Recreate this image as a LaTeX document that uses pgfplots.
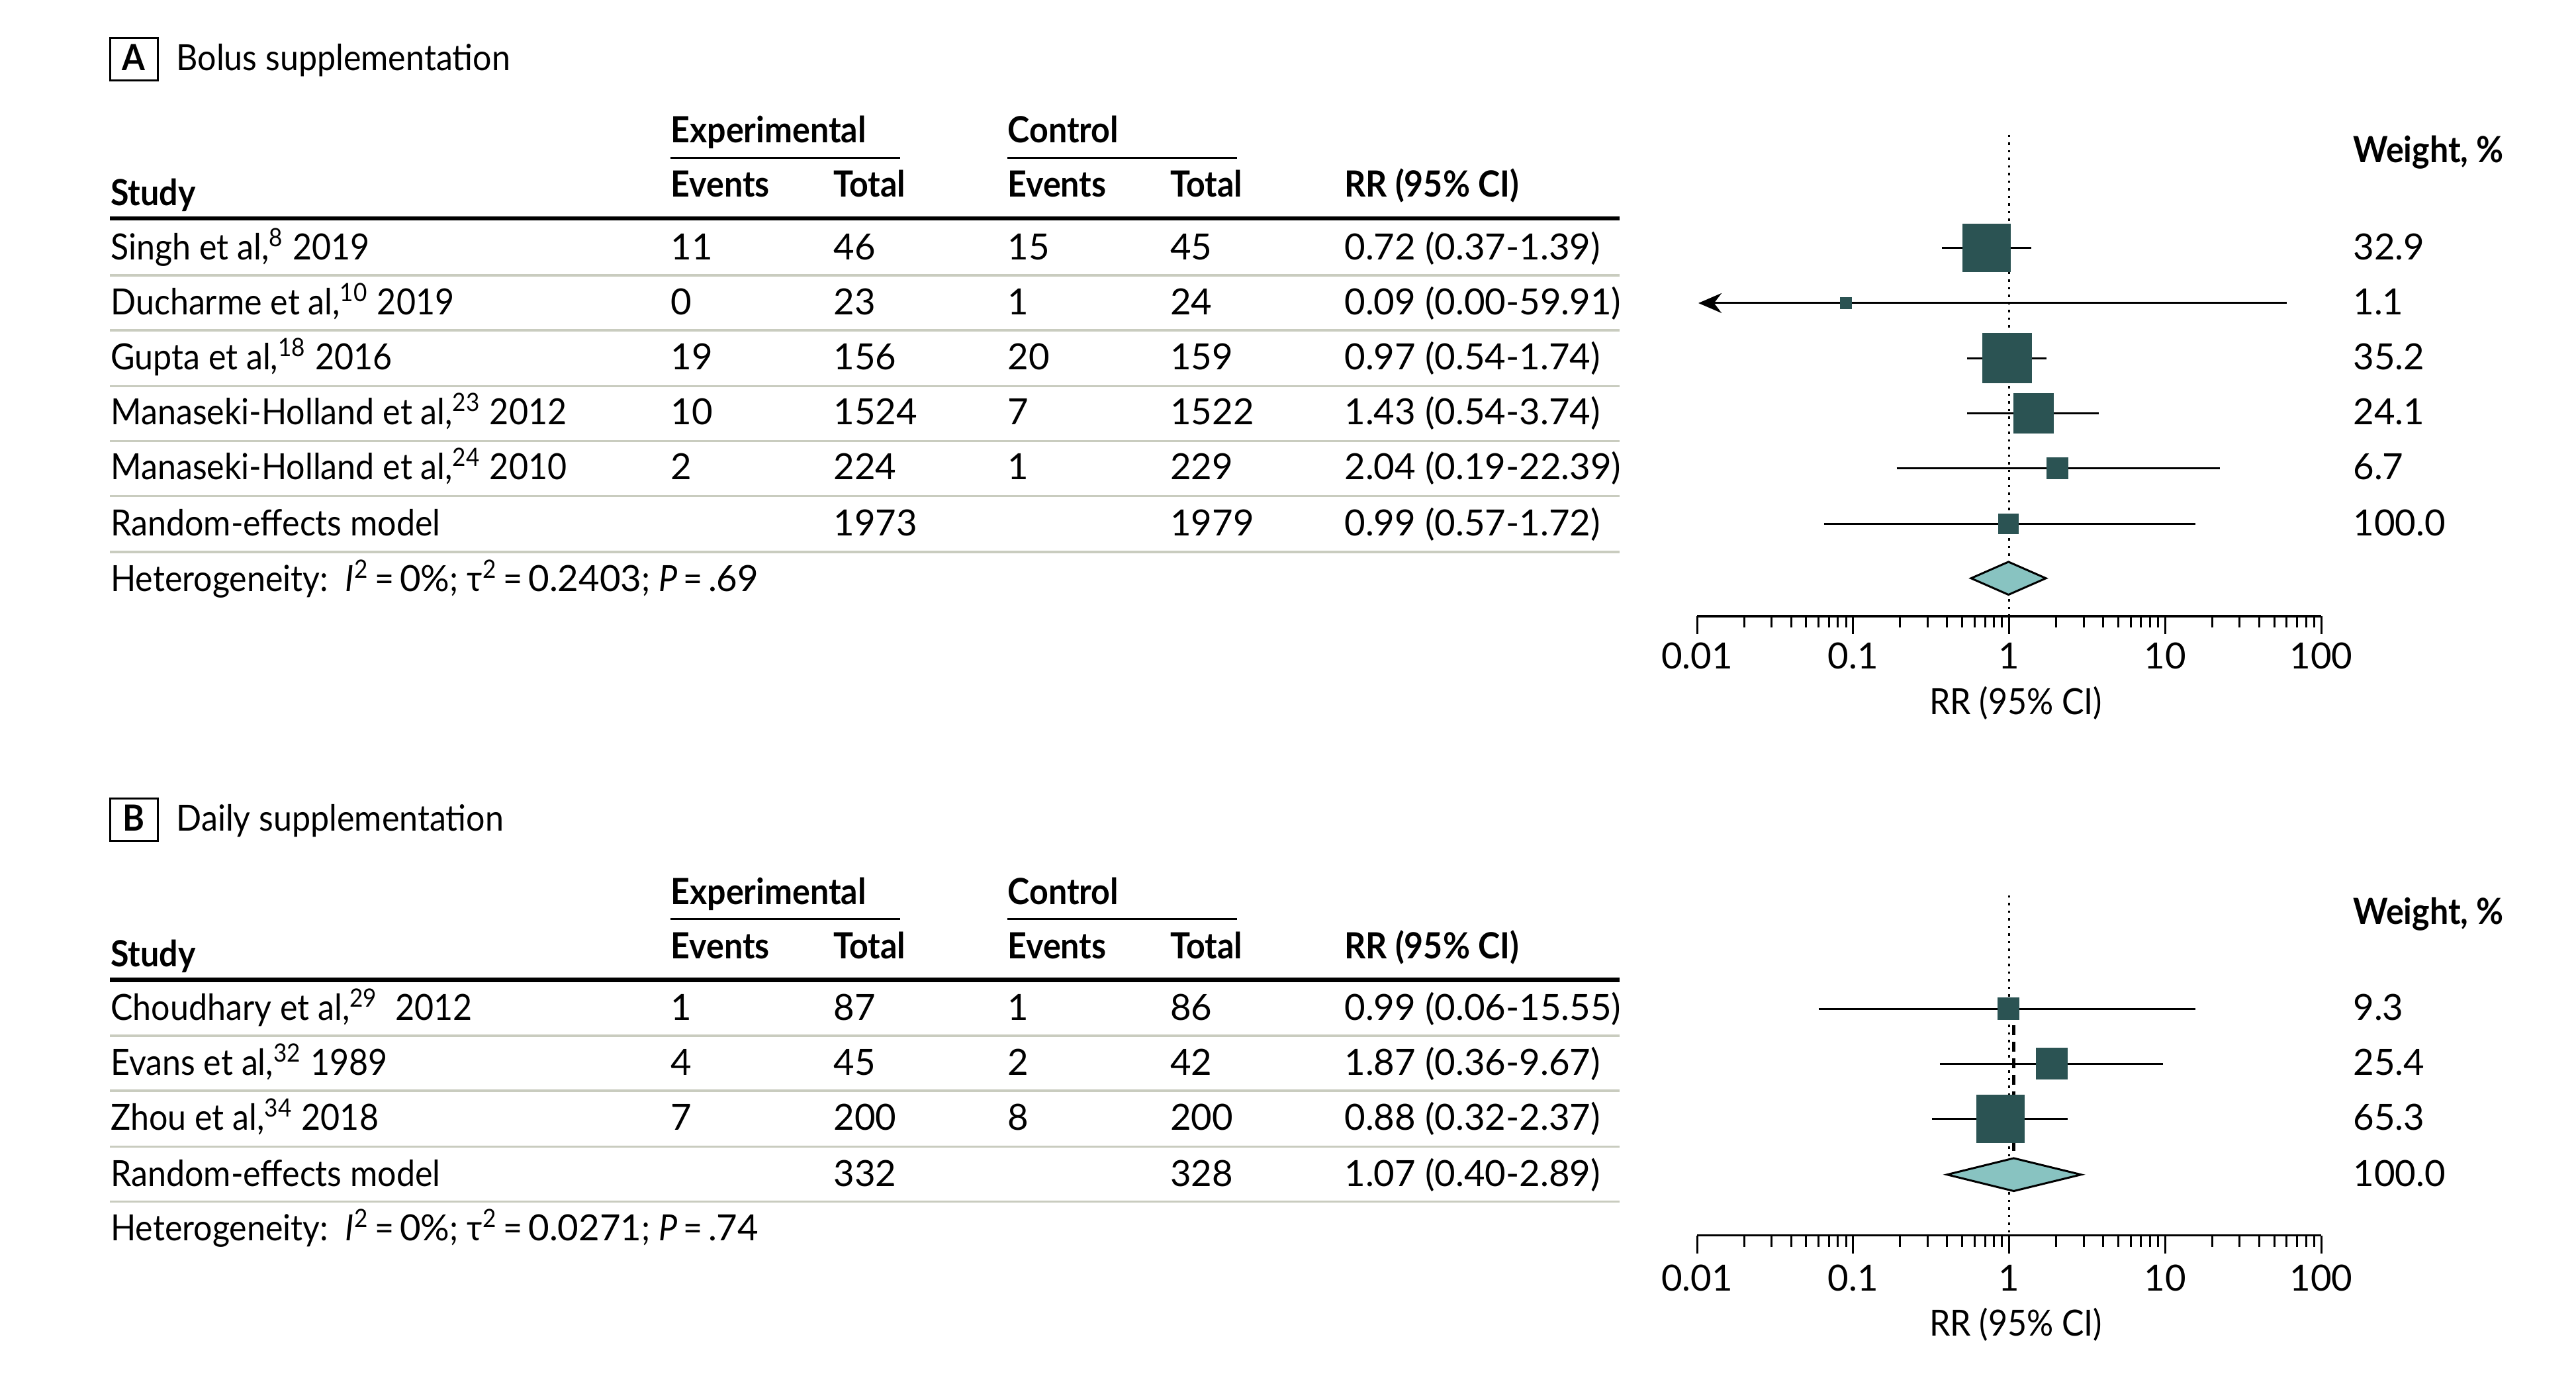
\documentclass[border=0pt]{standalone}
\usepackage{fontspec}
\setmainfont{Lato}[FakeStretch=0.92]
\newfontfamily\numfont{Lato}
\usepackage{pgfplots}
\pgfplotsset{compat=1.18}
\usetikzlibrary{arrows.meta}
\definecolor{sq}{HTML}{2B5353}
\definecolor{dia}{HTML}{88C3C1}
\definecolor{sep}{HTML}{C9CCBF}

% one study row: baseline y, study, exp events, exp total, ctrl events, ctrl total, RR (CI), weight
\newcommand\frow[8]{%
  \node at (67,#1) {#2};
  \node[font=\numfont] at (408,#1) {#3};
  \node[font=\numfont] at (507,#1) {#4};
  \node[font=\numfont] at (613,#1) {#5};
  \node[font=\numfont] at (712,#1) {#6};
  \node[font=\numfont] at (818,#1) {#7};
  \node[font=\numfont] at (1432,#1) {#8};
}
% table head, shifted down by #1
\newcommand\fhead[1]{%
  \begin{scope}[yshift=-#1*0.4964pt]
  \node[font=\bfseries] at (408,87) {Experimental};
  \node[font=\bfseries] at (613,87) {Control};
  \draw[line width=0.6pt] (408,96) -- (548,96);
  \draw[line width=0.6pt] (613,96) -- (753,96);
  \node[font=\bfseries] at (67,125) {Study};
  \node[font=\bfseries] at (408,120) {Events};
  \node[font=\bfseries] at (507,120) {Total};
  \node[font=\bfseries] at (613,120) {Events};
  \node[font=\bfseries] at (712,120) {Total};
  \node[font=\bfseries] at (818,120) {RR (95\% CI)};
  \node[font=\bfseries] at (1432,99) {Weight, \%};
  \draw[line width=1.25pt] (67,133) -- (986,133);
  \end{scope}
}
\newcommand\eq{\hspace{0.16em}=\hspace{0.16em}}

\tikzset{
  ci/.style={line width=0.6pt, black},
  sqbox/.style={only marks, mark=square*, mark options={fill=sq, draw=sq, line width=0pt}},
}

\begin{document}
\fontsize{10.9pt}{13pt}\selectfont
\begin{tikzpicture}
\begin{scope}[x=0.4964pt, y=-0.4964pt, every node/.style={inner sep=0pt, anchor=base west}]
\useasboundingbox (0,0) rectangle (1568,836);
\coordinate (axA) at (1033,375);
\coordinate (axB) at (1033,752);

% ---- panel A ----
\draw[line width=0.6pt] (67,23) rectangle (96,49);
\node[font=\bfseries, anchor=base] at (81.5,43) {A};
\node at (107,43) {Bolus supplementation};
\fhead{0}
\frow{158}{Singh et al,\textsuperscript{8} 2019}{11}{46}{15}{45}{0.72 (0.37-1.39)}{32.9}
\frow{191.5}{Ducharme et al,\textsuperscript{10} 2019}{0}{23}{1}{24}{0.09 (0.00-59.91)}{1.1}
\frow{225}{Gupta et al,\textsuperscript{18} 2016}{19}{156}{20}{159}{0.97 (0.54-1.74)}{35.2}
\frow{258.5}{Manaseki-Holland et al,\textsuperscript{23} 2012}{10}{1524}{7}{1522}{1.43 (0.54-3.74)}{24.1}
\frow{292}{Manaseki-Holland et al,\textsuperscript{24} 2010}{2}{224}{1}{229}{2.04 (0.19-22.39)}{6.7}
\frow{326}{Random-effects model}{}{1973}{}{1979}{0.99 (0.57-1.72)}{100.0}
\foreach \y in {167.5,201,235,268.5,302,336}
  \draw[sep, line width=0.7pt] (67,\y) -- (986,\y);
\node at (67,360) {Heterogeneity:\ \ \textit{I}\textsuperscript{2}\eq{\numfont 0\%}; τ\textsuperscript{2}\eq{\numfont 0.2403}; \textit{P}\eq{\numfont .69}};
\node[anchor=base] at (1227,435) {RR (95\% CI)};

% ---- panel B ----
\draw[line width=0.6pt] (67,486) rectangle (96,512);
\node[font=\bfseries, anchor=base] at (81.5,506) {B};
\node at (107,506) {Daily supplementation};
\fhead{463.5}
\frow{621}{Choudhary et al,\textsuperscript{29}\ \ 2012}{1}{87}{1}{86}{0.99 (0.06-15.55)}{9.3}
\frow{654.5}{Evans et al,\textsuperscript{32} 1989}{4}{45}{2}{42}{1.87 (0.36-9.67)}{25.4}
\frow{688}{Zhou et al,\textsuperscript{34} 2018}{7}{200}{8}{200}{0.88 (0.32-2.37)}{65.3}
\frow{722}{Random-effects model}{}{332}{}{328}{1.07 (0.40-2.89)}{100.0}
\foreach \y in {630.5,664,698,731.5}
  \draw[sep, line width=0.7pt] (67,\y) -- (986,\y);
\node at (67,755) {Heterogeneity:\ \ \textit{I}\textsuperscript{2}\eq{\numfont 0\%}; τ\textsuperscript{2}\eq{\numfont 0.0271}; \textit{P}\eq{\numfont .74}};
\node[anchor=base] at (1227,813) {RR (95\% CI)};
\end{scope}

% ---- forest plot A ----
\begin{axis}[at={(axA)}, anchor=south west,
  scale only axis, width=188.6pt, height=145.45pt,
  xmode=log, xmin=0.01, xmax=100, ymin=-375, ymax=-82,
  axis x line=bottom, axis y line=none,
  x axis line style={-, line width=0.7pt},
  xtick={0.01,0.1,1,10,100},
  xticklabels={0.01,0.1,1,10,100},
  minor xtick={0.02,0.03,0.04,0.05,0.06,0.07,0.08,0.09,0.2,0.3,0.4,0.5,0.6,0.7,0.8,0.9,2,3,4,5,6,7,8,9,20,30,40,50,60,70,80,90},
  tick align=outside,
  major tick length=5.4pt, minor tick length=3.4pt,
  tick style={line width=0.6pt, black},
  xticklabel style={font=\numfont, anchor=base, yshift=-10.6pt},
  clip=false]
\addplot[black, line width=0.6pt, dash pattern=on 0.7pt off 1.6pt] coordinates {(1,-82) (1,-384)};
\addplot[ci] coordinates {(0.37,-151) (1.39,-151)};
\addplot[ci, -{Stealth[length=7pt, width=6pt]}] coordinates {(59.91,-184.5) (0.0102,-184.5)};
\addplot[ci] coordinates {(0.54,-218) (1.74,-218)};
\addplot[ci] coordinates {(0.54,-251.5) (3.74,-251.5)};
\addplot[ci] coordinates {(0.19,-285) (22.39,-285)};
\addplot[ci] coordinates {(0.065,-319) (15.6,-319)};
\addplot[sqbox, mark size=7.2pt]  coordinates {(0.72,-151)};
\addplot[sqbox, mark size=1.74pt] coordinates {(0.09,-184.5)};
\addplot[sqbox, mark size=7.45pt] coordinates {(0.97,-218)};
\addplot[sqbox, mark size=5.96pt] coordinates {(1.43,-251.5)};
\addplot[sqbox, mark size=3.23pt] coordinates {(2.04,-285)};
\addplot[sqbox, mark size=2.98pt] coordinates {(0.99,-319)};
\addplot[fill=dia, draw=black, line width=0.6pt] coordinates {(0.57,-352) (0.99,-342) (1.72,-352) (0.99,-362)} -- cycle;
\end{axis}

% ---- forest plot B ----
\begin{axis}[at={(axB)}, anchor=south west,
  scale only axis, width=188.6pt, height=102.75pt,
  xmode=log, xmin=0.01, xmax=100, ymin=-752, ymax=-545,
  axis x line=bottom, axis y line=none,
  x axis line style={-, line width=0.7pt},
  xtick={0.01,0.1,1,10,100},
  xticklabels={0.01,0.1,1,10,100},
  minor xtick={0.02,0.03,0.04,0.05,0.06,0.07,0.08,0.09,0.2,0.3,0.4,0.5,0.6,0.7,0.8,0.9,2,3,4,5,6,7,8,9,20,30,40,50,60,70,80,90},
  tick align=outside,
  major tick length=5.4pt, minor tick length=3.4pt,
  tick style={line width=0.6pt, black},
  xticklabel style={font=\numfont, anchor=base, yshift=-11.4pt},
  clip=false]
\addplot[black, line width=0.6pt, dash pattern=on 0.7pt off 1.6pt] coordinates {(1,-545) (1,-761)};
\addplot[ci] coordinates {(0.06,-614) (15.55,-614)};
\addplot[ci] coordinates {(0.36,-647.5) (9.67,-647.5)};
\addplot[ci] coordinates {(0.32,-681) (2.37,-681)};
\addplot[sqbox, mark size=3.23pt] coordinates {(0.99,-614)};
\addplot[sqbox, mark size=4.72pt] coordinates {(1.87,-647.5)};
\addplot[sqbox, mark size=7.2pt]  coordinates {(0.88,-681)};
\addplot[black, line width=0.9pt, dash pattern=on 3pt off 2pt] coordinates {(1.07,-614) (1.07,-705)};
\addplot[fill=dia, draw=black, line width=0.6pt] coordinates {(0.40,-715) (1.07,-705) (2.89,-715) (1.07,-725)} -- cycle;
\end{axis}
\end{tikzpicture}
\end{document}
